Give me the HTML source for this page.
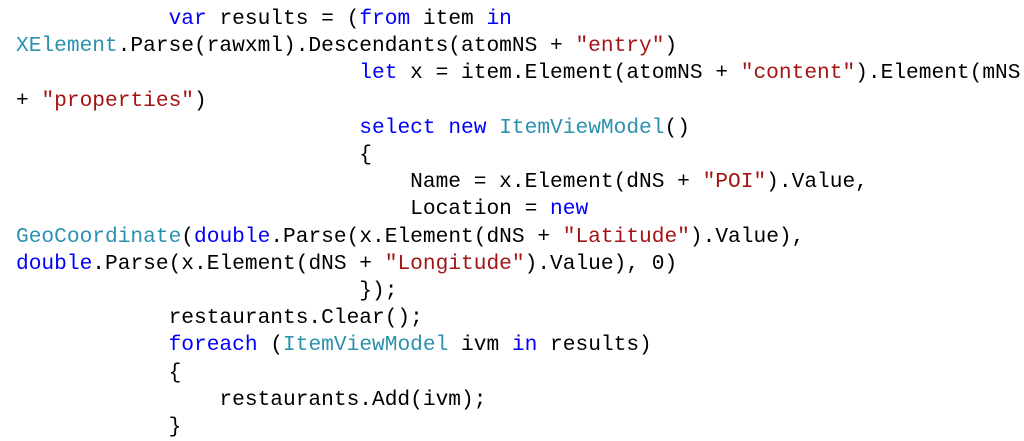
<!DOCTYPE html>
<html><head><meta charset="utf-8"><style>
html,body{margin:0;padding:0;background:#fff;width:1024px;height:441px;overflow:hidden}
pre{position:absolute;left:16px;top:6px;margin:0;font-family:"Liberation Mono",monospace;font-size:21.2px;line-height:27.2px;color:#000}
.k{color:#0000ff}.t{color:#2b91af}.s{color:#a31515}
</style></head><body><pre>            <span class="k">var</span> results = (<span class="k">from</span> item <span class="k">in</span>
<span class="t">XElement</span>.Parse(rawxml).Descendants(atomNS + <span class="s">"entry"</span>)
                           <span class="k">let</span> x = item.Element(atomNS + <span class="s">"content"</span>).Element(mNS
+ <span class="s">"properties"</span>)
                           <span class="k">select</span> <span class="k">new</span> <span class="t">ItemViewModel</span>()
                           {
                               Name = x.Element(dNS + <span class="s">"POI"</span>).Value,
                               Location = <span class="k">new</span>
<span class="t">GeoCoordinate</span>(<span class="k">double</span>.Parse(x.Element(dNS + <span class="s">"Latitude"</span>).Value),
<span class="k">double</span>.Parse(x.Element(dNS + <span class="s">"Longitude"</span>).Value), 0)
                           });
            restaurants.Clear();
            <span class="k">foreach</span> (<span class="t">ItemViewModel</span> ivm <span class="k">in</span> results)
            {
                restaurants.Add(ivm);
            }</pre></body></html>
